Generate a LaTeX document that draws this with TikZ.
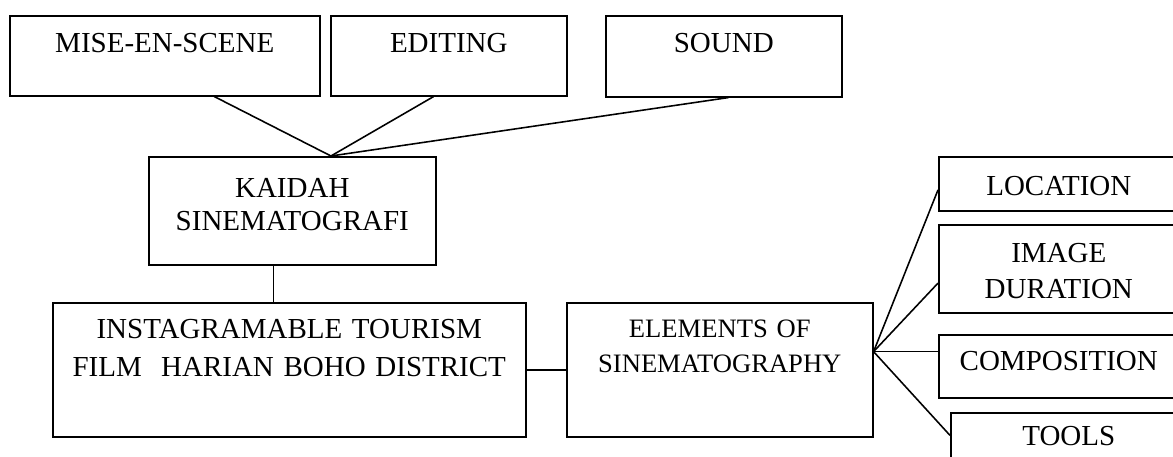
\documentclass[tikz,border=0pt]{standalone}
\usepackage{fontspec}
\setmainfont{Liberation Serif}
\usetikzlibrary{%
  calc,% wg. ($(a)!t!(b)$)
  positioning%
}
\newcommand{\px}{0.4138pt}

\begin{document}
\begin{tikzpicture}
    [   x=\px
    ,   y=-\px
    ,   line width=0.65pt
    ,   black
    ,   frame/.style=
            {   % The shape:
                rectangle
            ,   draw
            ,   anchor=north west
            ,   inner sep=0pt
            ,   % The text
                align=center
            ,   font=\fontsize{12}{13.7}\selectfont
            }
    ,   dims/.style n args={3}{text width=#1*\px, text height=#2*\px, text depth=#3*\px}
    ]

    \useasboundingbox (0,0) rectangle (1173,457);
    \clip (0,0) rectangle (1173,457);

    % top row
    \node[frame,dims={310}{37}{43}](mise) at (9,15) {MISE-EN-SCENE};
    \node[frame,dims={236}{37}{43}](edit) at (330,15) {EDITING};
    \node[frame,dims={236}{37}{44}](sound) at (605,15) {SOUND};

    % middle
    \node[frame,dims={287}{41}{67}](kaidah) at (148,156) {KAIDAH\\SINEMATOGRAFI};
    \node[frame,dims={473}{36}{98},font=\fontsize{12}{15.7}\selectfont](film) at (52,302)
        {INSTAGRAMABLE TOURISM\\FILM\ \ HARIAN BOHO DISTRICT};
    \node[frame,dims={306}{35}{99},font=\fontsize{11}{14.5}\selectfont](elem) at (566,302)
        {ELEMENTS OF\\SINEMATOGRAPHY};

    % right column
    \node[frame,dims={240}{39}{15}](loc) at (938,156) {LOCATION};
    \node[frame,dims={240}{38}{50},font=\fontsize{12}{14.9}\selectfont](dur) at (938,224) {IMAGE\\DURATION};
    \node[frame,dims={240}{36}{27}](comp) at (938,334) {COMPOSITION};
    \node[frame,dims={236}{33}{27}](tools) at (950,412) {TOOLS};

    \coordinate (apex) at ($(kaidah.north west)!0.634!(kaidah.north east)$);
    \coordinate (fan) at ($(elem.north east)!0.366!(elem.south east)$);

    \draw ($(mise.south west)!0.659!(mise.south east)$)--(apex);
    \draw ($(edit.south west)!0.436!(edit.south east)$)--(apex);
    \draw ($(sound.south west)!0.52!(sound.south east)$)--(apex);
    \draw ($(kaidah.south west)!0.4355!(kaidah.south east)$) coordinate (k)--(k |- film.north);
    \draw (film.east)--(elem.west);
    \draw (fan)--($(loc.north west)!0.61!(loc.south west)$);
    \draw (fan)--($(dur.north west)!0.66!(dur.south west)$);
    \draw (fan)--(fan -| comp.west);
    \draw (fan)--($(tools.north west)!0.38!(tools.south west)$);
\end{tikzpicture}
\end{document}
